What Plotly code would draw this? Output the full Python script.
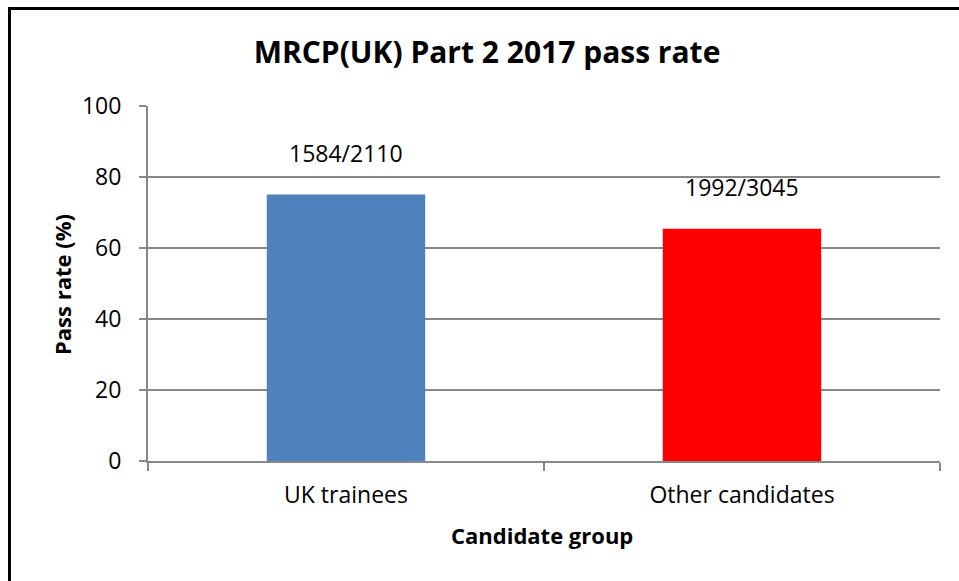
import plotly.graph_objects as go

categories = ["UK trainees", "Other candidates"]
pass_rates = [1584 / 2110 * 100, 1992 / 3045 * 100]
bar_labels = ["1584/2110", "1992/3045"]
bar_colors = ["#4F81BD", "#FF0000"]
y_ticks = [0, 20, 40, 60, 80, 100]

W, H = 959, 581
L, R, T, B = 148, 19, 106, 120
pw, ph = W - L - R, H - T - B

def px_x(px):
    return (px - L) / pw

def px_y(py):
    return (H - B - py) / ph

FONT = "Open Sans"
GRID = "#878787"

fig = go.Figure()
fig.add_trace(go.Bar(
    x=categories, y=pass_rates,
    marker=dict(color=bar_colors, line=dict(width=0)),
    width=0.4, showlegend=False, hoverinfo="skip",
))

for c, v, t in zip(categories, pass_rates, bar_labels):
    fig.add_annotation(x=c, y=v, text=t, showarrow=False, yanchor="middle",
                       yshift=42, font=dict(family=FONT, size=23, color="black"))

fig.add_annotation(xref="paper", yref="paper", x=px_x(62), y=px_y(285),
                   xanchor="center", yanchor="middle",
                   text="<b>Pass rate (%)</b>", textangle=-90, showarrow=False,
                   font=dict(family=FONT, size=22, color="black"))
fig.add_annotation(xref="paper", yref="paper", x=px_x(542), y=px_y(535),
                   xanchor="center", yanchor="middle",
                   text="<b>Candidate group</b>", showarrow=False,
                   font=dict(family=FONT, size=22, color="black"))

# chart frame (left and top edges)
fig.add_shape(type="line", xref="paper", yref="paper", x0=px_x(9.5), x1=px_x(9.5),
              y0=px_y(7), y1=px_y(590), line=dict(color="black", width=3))
fig.add_shape(type="line", xref="paper", yref="paper", x0=px_x(8), x1=px_x(970),
              y0=px_y(8.5), y1=px_y(8.5), line=dict(color="black", width=3))

fig.update_layout(
    width=W, height=H,
    margin=dict(l=L, r=R, t=T, b=B),
    paper_bgcolor="white", plot_bgcolor="white",
    title=dict(text="<b>MRCP(UK) Part 2 2017 pass rate</b>", x=487 / W, xanchor="center",
               y=1 - 52 / H, yanchor="middle", yref="container",
               font=dict(family=FONT, size=30, color="black")),
    bargap=0.6,
    xaxis=dict(
        showline=True, linecolor=GRID, linewidth=2,
        ticks="outside", ticklen=8, tickcolor=GRID, tickwidth=2,
        tickson="boundaries", showgrid=False, ticklabelstandoff=12,
        tickfont=dict(family=FONT, size=23, color="black"),
    ),
    yaxis=dict(
        range=[0, 100], tickvals=y_ticks,
        showline=True, linecolor=GRID, linewidth=2,
        showgrid=True, gridcolor=GRID, gridwidth=2,
        ticks="outside", ticklen=7, tickcolor=GRID, tickwidth=2,
        zeroline=False, ticklabelstandoff=13,
        tickfont=dict(family=FONT, size=23, color="black"),
    ),
)

fig.write_html("out.html", config={"displayModeBar": False},
               post_script="document.body.style.margin='0';")
